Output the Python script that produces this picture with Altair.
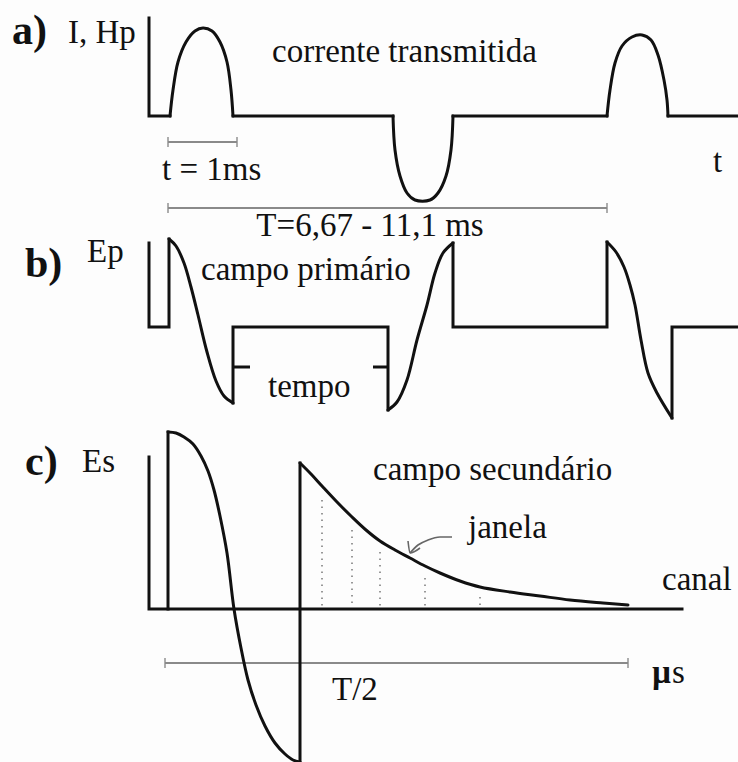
import altair as alt
import pandas as pd

# Diagram coordinates: x to the right, y downward (0..738 x 0..762)
W, H = 738, 762

# ---- straight pieces of the waveforms (polylines) ----
# a) transmitted current: axis + baseline between pulses
a_lines = [
    ([149, 149, 170], [18, 116, 116]),
    ([233, 393], [116, 116]),
    ([453, 607], [116, 116]),
    ([668, 738], [116, 116]),
]
# b) primary field: switch-on/off steps
b_lines = [
    ([149, 149, 169, 169], [243, 327, 327, 239]),
    ([233, 233, 388, 388], [403, 327, 327, 410]),
    ([453, 453, 607, 607], [243, 327, 327, 242]),
    ([672, 672, 738], [418, 327, 327]),
]
# c) secondary field: axes and the two switching edges
c_lines = [
    ([149, 149, 682], [457, 609, 609]),
    ([168, 168], [609, 432]),
    ([300, 300], [762, 463]),
]

# ---- curved pieces (smoothed) ----
a_curves = [
    ([170, 173, 178, 186, 195, 203, 212, 220, 227, 231, 233],
     [116, 90, 62, 42, 31, 28, 31, 42, 62, 90, 116]),
    ([393, 395, 400, 407, 415, 430, 438, 446, 451, 453],
     [116, 150, 176, 193, 200, 200, 193, 176, 150, 116]),
    ([607, 610, 615, 622, 632, 642, 651, 658, 664, 667, 668],
     [116, 90, 63, 46, 37, 35, 40, 55, 80, 100, 116]),
]
b_curves = [
    ([169, 176, 184, 191, 198, 207, 216, 224, 233],
     [239, 246, 263, 287, 315, 352, 381, 396, 403]),
    ([388, 397, 407, 417, 427, 435, 443, 453],
     [410, 402, 380, 340, 305, 273, 253, 243]),
    ([607, 616, 624, 630, 635, 641, 648, 657, 672],
     [242, 252, 267, 285, 305, 340, 373, 393, 418]),
]
c_curves = [
    ([168, 176, 184, 193, 201, 208, 214, 220, 227, 234, 241, 248, 256, 265, 275, 285, 293, 300],
     [432, 433, 437, 444, 456, 471, 490, 516, 553, 609, 648, 680, 705, 726, 743, 754, 760, 762]),
    ([300, 311, 322, 337, 352, 366, 380, 395, 410, 425, 440, 460, 480, 510, 540, 570, 603, 628],
     [463, 474, 486, 502, 517, 530, 541, 550, 558, 566, 573, 581, 587, 592, 596, 600, 603, 605]),
]

# "tempo" markers on the gap between pulses
tick_x = [233, 373]
tick_x2 = [250, 388]
tick_y = [367, 367]

# sampling windows (dotted) under the decay curve
win_x = [322, 352, 380, 425, 480]
win_top = [500, 530, 552, 578, 597]
win_bottom = [607, 607, 607, 607, 607]

# dimension brackets
br_x1 = [168, 168, 165]
br_x2 = [237, 607, 628]
br_y = [142, 208, 663]

# arrow pointing from "janela" to the curve
arr_x = [452, 440, 428, 418, 410]
arr_y = [537, 537, 540, 545, 553]
head_x = [408, 410, 420]
head_y = [541, 553, 548]

# labels
lab_text = ["a)", "b)", "c)"]
lab_x = [12, 25, 25]
lab_y = [44, 277, 475]

txt = ["I, Hp", "corrente transmitida", "t", "t = 1ms", "Ep", "campo primário", "tempo",
       "Es", "campo secundário", "janela", "canal", "T/2", "s"]
txt_x = [68, 272, 713, 162, 87, 201, 268, 82, 373, 468, 662, 332, 672]
txt_y = [43, 62, 172, 180, 262, 280, 397, 472, 480, 538, 590, 700, 683]

mid_text = ["T=6,67 - 11,1 ms"]
mid_x = [370]
mid_y = [236]

mu_text = ["µ"]
mu_x = [652]
mu_y = [683]


def paths_df(paths, prefix):
    frames = []
    for k, (xs, ys) in enumerate(paths):
        frames.append(pd.DataFrame({"path": f"{prefix}{k}", "i": range(len(xs)), "x": xs, "y": ys}))
    return pd.concat(frames, ignore_index=True)


X = alt.Scale(domain=[0, W], range=[0, W], nice=False, zero=False)
Y = alt.Scale(domain=[0, H], range=[0, H], nice=False, zero=False)
enc_x = alt.X("x:Q", scale=X, axis=None)
enc_y = alt.Y("y:Q", scale=Y, axis=None)

straight = pd.concat([paths_df(a_lines, "a"), paths_df(b_lines, "b"), paths_df(c_lines, "c")])
curved = pd.concat([paths_df(a_curves, "a"), paths_df(b_curves, "b"), paths_df(c_curves, "c")])

straight_layer = alt.Chart(straight).mark_line(
    color="#111111", strokeWidth=3, strokeJoin="miter", strokeCap="square"
).encode(x=enc_x, y=enc_y, detail="path:N", order="i:Q")

curve_layer = alt.Chart(curved).mark_line(
    color="#111111", strokeWidth=3, strokeCap="round", interpolate="catmull-rom"
).encode(x=enc_x, y=enc_y, detail="path:N", order="i:Q")

ticks = pd.DataFrame({"x": tick_x, "x2": tick_x2, "y": tick_y})
tick_layer = alt.Chart(ticks).mark_rule(color="#111111", strokeWidth=3).encode(
    x=enc_x, x2="x2:Q", y=enc_y,
)

wins = pd.DataFrame({"x": win_x, "y": win_top, "y2": win_bottom})
win_layer = alt.Chart(wins).mark_rule(color="#777777", strokeWidth=1.5, strokeDash=[1.5, 5]).encode(
    x=enc_x, y=enc_y, y2="y2:Q",
)

brackets = pd.DataFrame({"x": br_x1, "x2": br_x2, "y": br_y})
br_line = alt.Chart(brackets).mark_rule(color="#8a8a8a", strokeWidth=2).encode(
    x=enc_x, x2="x2:Q", y=enc_y,
)
ends = pd.DataFrame({"x": br_x1 + br_x2, "y": br_y + br_y})
br_ends = alt.Chart(ends).mark_tick(
    color="#8a8a8a", orient="vertical", size=10, thickness=2
).encode(x=enc_x, y=enc_y)

arrow = paths_df([(arr_x, arr_y), (head_x, head_y)], "arrow")
arrow_layer = alt.Chart(arrow).mark_line(
    color="#666666", strokeWidth=1.6, interpolate="monotone"
).encode(x=enc_x, y=enc_y, detail="path:N", order="i:Q")

FONT = "Liberation Serif"

labels = pd.DataFrame({"t": lab_text, "x": lab_x, "y": lab_y})
lab_layer = alt.Chart(labels).mark_text(
    font=FONT, fontSize=42, fontWeight="bold", align="left", baseline="alphabetic", color="#111111"
).encode(x=enc_x, y=enc_y, text="t:N")

texts = pd.DataFrame({"t": txt, "x": txt_x, "y": txt_y})
txt_layer = alt.Chart(texts).mark_text(
    font=FONT, fontSize=33, align="left", baseline="alphabetic", color="#111111"
).encode(x=enc_x, y=enc_y, text="t:N")

mids = pd.DataFrame({"t": mid_text, "x": mid_x, "y": mid_y})
mid_layer = alt.Chart(mids).mark_text(
    font=FONT, fontSize=33, align="center", baseline="alphabetic", color="#111111"
).encode(x=enc_x, y=enc_y, text="t:N")

mus = pd.DataFrame({"t": mu_text, "x": mu_x, "y": mu_y})
mu_layer = alt.Chart(mus).mark_text(
    font=FONT, fontSize=33, fontWeight="bold", align="left", baseline="alphabetic", color="#111111"
).encode(x=enc_x, y=enc_y, text="t:N")

chart = alt.layer(
    win_layer, br_line, br_ends, arrow_layer, straight_layer, curve_layer, tick_layer,
    lab_layer, txt_layer, mid_layer, mu_layer,
).properties(
    width=W, height=H, padding=0, autosize=alt.AutoSizeParams(type="none"),
    background="#fdfdfd",
).configure_view(stroke=None)

chart.save("out.html", embed_options={"renderer": "svg", "actions": False})
